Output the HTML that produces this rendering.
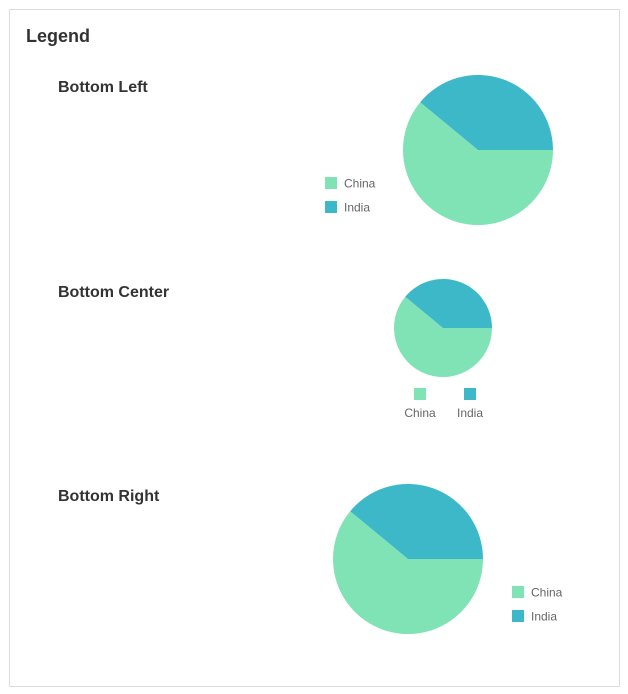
<!DOCTYPE html>
<html><head><meta charset="utf-8">
<style>
body{margin:0;background:#fff;font-family:"Liberation Sans",sans-serif;}
#card{position:absolute;left:9px;top:9px;width:611px;height:678px;border:1px solid #ddd;box-sizing:border-box;}
.h{position:absolute;font-weight:bold;color:#333;margin:0;}
</style></head><body>
<div id="card"></div>
<div class="h" style="left:26px;top:26px;font-size:18px">Legend</div>
<div class="h" style="left:58px;top:79px;font-size:16px">Bottom Left</div>
<div class="h" style="left:58px;top:284px;font-size:16px">Bottom Center</div>
<div class="h" style="left:58px;top:488px;font-size:16px">Bottom Right</div>
<svg id="svg" width="628" height="694" style="position:absolute;left:0;top:0"></svg>
<script>
const categories=["China","India"];
const values=[61,39];
const colors=["#7fe3b5","#3db8c9"];
const NS="http://www.w3.org/2000/svg";
const svg=document.getElementById('svg');
function mk(t,a){const e=document.createElementNS(NS,t);for(const k in a)e.setAttribute(k,a[k]);svg.appendChild(e);return e;}
function pie(cx,cy,r,id){
  const tot=values.reduce((a,b)=>a+b,0);let a0=0;
  values.forEach((v,i)=>{
    const a1=a0+v/tot*2*Math.PI;
    const x0=cx+r*Math.cos(a0),y0=cy+r*Math.sin(a0),x1=cx+r*Math.cos(a1),y1=cy+r*Math.sin(a1);
    const p=mk('path',{d:`M${cx},${cy}L${x0},${y0}A${r},${r} 0 ${a1-a0>Math.PI?1:0} 1 ${x1},${y1}Z`,fill:colors[i]});
    
    
    a0=a1;
  });
}
function legendV(x,y){
  categories.forEach((c,i)=>{
    const r=mk('rect',{x:x,y:y+i*24,width:12,height:12,fill:colors[i]});
    
    
    const t=mk('text',{x:x+19,y:y+i*24+10.5,'font-size':12,fill:'#666','font-family':'Liberation Sans, sans-serif'});
    t.textContent=c;
    
    
  });
}
function legendH(x,y){
  categories.forEach((c,i)=>{
    const cx=x+i*50;
    const r=mk('rect',{x:cx-6,y:y,width:12,height:12,fill:colors[i]});
    
    
    const t=mk('text',{x:cx,y:y+29,'font-size':12,fill:'#666','text-anchor':'middle','font-family':'Liberation Sans, sans-serif'});
    t.textContent=c;
    
    
  });
}
pie(478,150,75,'bottom-left');legendV(325,177);
pie(443,328,49,'bottom-center');legendH(420,388);
pie(408,559,75,'bottom-right');legendV(512,586);
</script>
</body></html>
